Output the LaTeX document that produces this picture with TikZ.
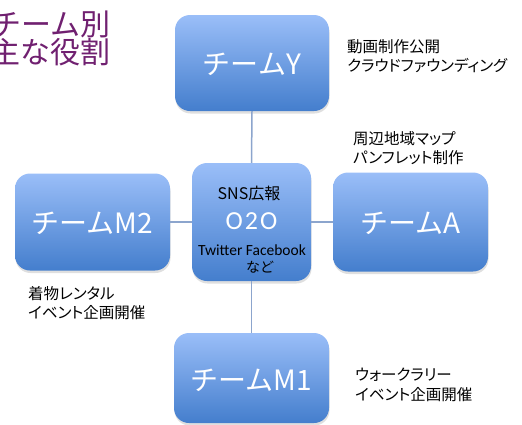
\documentclass[tikz,border=0pt]{standalone}
\usepackage{fontspec}
\setmainfont{Noto Sans CJK JP}
\newfontfamily\jpp[RawFeature=+palt]{Noto Sans CJK JP}
\newfontfamily\latf{Carlito}
\usetikzlibrary{shadows}
\definecolor{boxtop}{RGB}{154,190,248}
\definecolor{boxbot}{RGB}{68,126,205}
\definecolor{linec}{RGB}{140,165,205}
\definecolor{titlec}{RGB}{112,32,112}
\tikzset{
  teambox/.style={rounded corners=15pt, top color=boxtop, bottom color=boxbot,
    draw=none, inner sep=0pt, text=white,
    drop shadow={opacity=0.25, shadow xshift=0.5pt, shadow yshift=-2.5pt, fill=gray}},
  teamtxt/.style={font=\fontsize{28}{32}\selectfont, text=white},
  note/.style={font=\jpp\fontsize{15.5}{19.5}\selectfont, align=left, anchor=west, inner sep=0pt},
  conn/.style={draw=linec, line width=1.5pt},
  titletxt/.style={font=\fontsize{30}{28}\selectfont, text=titlec, align=right, anchor=east, inner sep=0pt},
}
\begin{document}
\begin{tikzpicture}[x=1pt,y=-1pt]
\useasboundingbox (0,0) rectangle (522,424);
\coordinate (ycen) at (252,63);
\coordinate (ccen) at (251.5,222);
\coordinate (m2cen) at (92.5,222);
\coordinate (acen) at (410.5,222);
\coordinate (m1cen) at (251.5,378);
% boxes
\node[teambox, minimum width=154pt, minimum height=96pt] (Y) at (ycen) {};
\node[teambox, minimum width=119pt, minimum height=118pt] (C) at (ccen) {};
\node[teambox, minimum width=155pt, minimum height=97pt] (M2) at (m2cen) {};
\node[teambox, minimum width=155pt, minimum height=99pt] (A) at (acen) {};
\node[teambox, minimum width=155pt, minimum height=90pt] (M1) at (m1cen) {};
% connectors
\draw[conn] (Y.south) -- (C.north);
\draw[conn] (C.south) -- (M1.north);
\draw[conn] (M2.east) -- (C.west);
\draw[conn] (C.east) -- (A.west);
% box labels
\node[teamtxt] (Yt) at (252,64) {チームY};
\node[teamtxt] (M2t) at (92.5,223) {チームM2};
\node[teamtxt] (At) at (410.5,223) {チームA};
\node[teamtxt] (M1t) at (251.5,380) {チームM1};
% center texts
\node[font=\fontsize{16}{18}\selectfont, inner sep=0pt] (sns) at (249,193) {SNS広報};
\node[font=\latf\fontsize{26}{28}\selectfont, text=white, inner sep=0pt] (o2o) at (251.5,221) {O\hspace{2pt}2\hspace{2pt}O};
\node[font=\latf\fontsize{15.5}{17}\selectfont, inner sep=0pt] (tw) at (252,250) {Twitter Facebook};
\node[font=\fontsize{14}{15}\selectfont, inner sep=0pt] (nado) at (260,267) {など};
% notes
\node[note] (nY) at (347,56) {動画制作公開\\クラウドファウンディング};
\node[note] (nA) at (353,148) {周辺地域マップ\\パンフレット制作};
\node[note] (nM2) at (28,303) {着物レンタル\\イベント企画開催};
\node[note] (nM1) at (355,385) {ウォークラリー\\イベント企画開催};
% title
\node[titletxt] (title) at (111,38) {チーム別\\主な役割};
\end{tikzpicture}
\end{document}
